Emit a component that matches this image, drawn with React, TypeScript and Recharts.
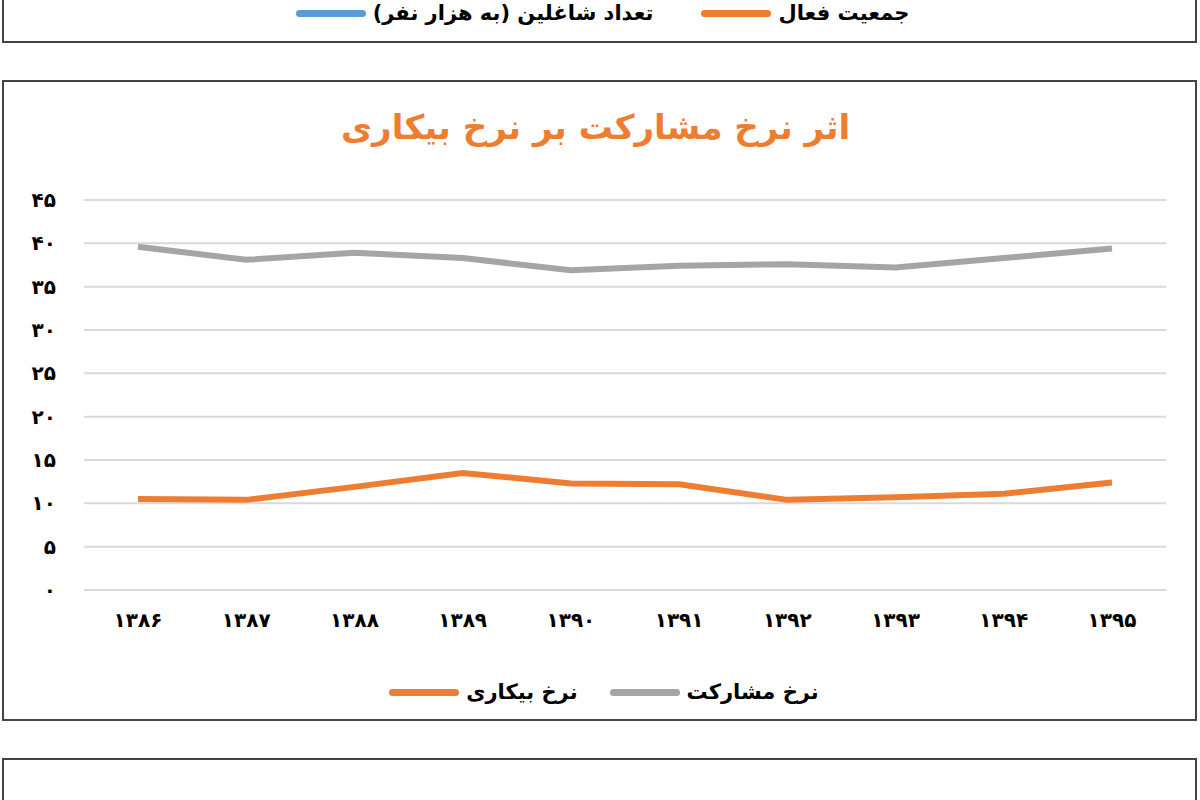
import React from "react";
import { CartesianGrid, Legend, Line, LineChart, XAxis, YAxis } from "recharts";

const years = ["۱۳۸۶", "۱۳۸۷", "۱۳۸۸", "۱۳۸۹", "۱۳۹۰", "۱۳۹۱", "۱۳۹۲", "۱۳۹۳", "۱۳۹۴", "۱۳۹۵"];
const participationRate = [39.6, 38.1, 38.9, 38.3, 36.9, 37.4, 37.6, 37.2, 38.3, 39.4];
const unemploymentRate = [10.5, 10.4, 11.9, 13.5, 12.3, 12.2, 10.4, 10.7, 11.1, 12.4];
const yTicks = [0, 5, 10, 15, 20, 25, 30, 35, 40, 45];

const title = "اثر نرخ مشارکت بر نرخ بیکاری";
const participationName = "نرخ مشارکت";
const unemploymentName = "نرخ بیکاری";
const prevLegend = ["جمعیت فعال", "تعداد شاغلین (به هزار نفر)"];

const ORANGE = "#ED7D31";
const GREY = "#A5A5A5";
const BLUE = "#5B9BD5";
const FONT = "'DejaVu Sans', sans-serif";

const faDigits = (v: number | string) =>
  String(v).replace(/\d/g, (d) => "۰۱۲۳۴۵۶۷۸۹"[Number(d)]);

const data = years.map((year, i) => ({
  year,
  participation: participationRate[i],
  unemployment: unemploymentRate[i],
}));

function Swatch({ color }: { color: string }) {
  return (
    <span
      style={{
        display: "inline-block",
        width: 70,
        height: 7,
        borderRadius: 4,
        background: color,
      }}
    />
  );
}

function LegendItem({ color, label, gap }: { color: string; label: string; gap: number }) {
  return (
    <span style={{ display: "inline-flex", alignItems: "center", marginRight: gap }}>
      <Swatch color={color} />
      <span style={{ marginLeft: 7, direction: "rtl" }}>{label}</span>
    </span>
  );
}

function ChartLegend() {
  return (
    <div
      style={{
        height: 69,
        display: "flex",
        justifyContent: "center",
        alignItems: "flex-end",
        paddingBottom: 5,
        boxSizing: "border-box",
        fontFamily: FONT,
        fontWeight: "bold",
        fontSize: 21,
        color: "#000",
        direction: "ltr",
        paddingLeft: 38,
      }}
    >
      <LegendItem color={ORANGE} label={unemploymentName} gap={32} />
      <LegendItem color={GREY} label={participationName} gap={0} />
    </div>
  );
}

export default function App() {
  return (
    <div
      style={{
        position: "absolute",
        left: 0,
        top: 0,
        width: 1200,
        height: 800,
        overflow: "hidden",
        background: "#fff",
      }}
    >
      {/* bottom of the previous chart */}
      <div
        style={{
          position: "absolute",
          left: 2,
          top: -200,
          width: 1195,
          height: 243,
          border: "2px solid #444",
          boxSizing: "border-box",
        }}
      >
        <div
          style={{
            position: "absolute",
            left: 0,
            right: 0,
            top: 199,
            display: "flex",
            justifyContent: "center",
            fontFamily: FONT,
            fontWeight: "bold",
            fontSize: 21,
            direction: "ltr",
            paddingLeft: 6,
          }}
        >
          <LegendItem color={BLUE} label={prevLegend[1]} gap={48} />
          <LegendItem color={ORANGE} label={prevLegend[0]} gap={0} />
        </div>
      </div>

      {/* main chart */}
      <div
        style={{
          position: "absolute",
          left: 2,
          top: 80,
          width: 1195,
          height: 641,
          border: "2px solid #444",
          boxSizing: "border-box",
        }}
      >
        <div
          style={{
            position: "absolute",
            left: 0,
            right: 0,
            top: 25,
            textAlign: "center",
            direction: "rtl",
            fontFamily: FONT,
            fontWeight: "bold",
            fontSize: 34,
            color: ORANGE,
            paddingRight: 8,
          }}
        >
          {title}
        </div>
        <div style={{ position: "absolute", left: 0, top: 0 }}>
          <LineChart
            width={1191}
            height={637}
            data={data}
            margin={{ top: 118, right: 29, bottom: 10, left: 0 }}
          >
            <CartesianGrid vertical={false} stroke="#D9D9D9" strokeWidth={2} />
            <XAxis
              dataKey="year"
              axisLine={false}
              tickLine={false}
              tickSize={0}
              tickMargin={23}
              height={50}
              interval={0}
              padding={{ left: 54, right: 54 }}
              tick={{ fill: "#000", fontSize: 20, fontWeight: "bold", fontFamily: FONT, letterSpacing: 5 }}
            />
            <YAxis
              domain={[0, 45]}
              ticks={yTicks}
              interval={0}
              width={80}
              axisLine={false}
              tickLine={false}
              tickSize={0}
              tickMargin={28}
              tickFormatter={faDigits}
              tick={{ fill: "#000", fontSize: 20, fontWeight: "bold", fontFamily: FONT, letterSpacing: 5 }}
            />
            <Legend verticalAlign="bottom" content={() => <ChartLegend />} />
            <Line
              type="linear"
              dataKey="participation"
              name={participationName}
              stroke={GREY}
              strokeWidth={6}
              dot={false}
              activeDot={false}
              isAnimationActive={false}
            />
            <Line
              type="linear"
              dataKey="unemployment"
              name={unemploymentName}
              stroke={ORANGE}
              strokeWidth={6}
              dot={false}
              activeDot={false}
              isAnimationActive={false}
            />
          </LineChart>
        </div>
      </div>

      {/* top of the next chart */}
      <div
        style={{
          position: "absolute",
          left: 2,
          top: 758,
          width: 1195,
          height: 300,
          border: "2px solid #444",
          boxSizing: "border-box",
        }}
      />
    </div>
  );
}
